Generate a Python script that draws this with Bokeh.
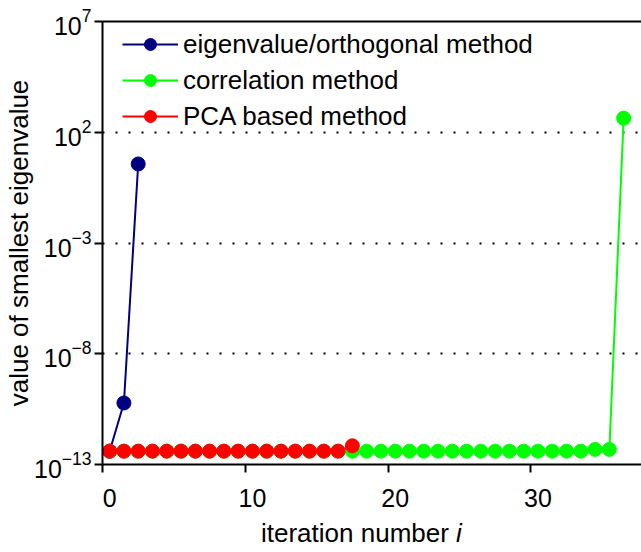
from bokeh.plotting import figure
from bokeh.models import (Range1d, FixedTicker, LinearAxis, Legend, LegendItem,
                          CustomJSTickFormatter, Div)
from bokeh.layouts import column
from bokeh.embed import file_html
from bokeh.resources import INLINE

# ---------------- data ----------------
iter_eig = [0, 1, 2]
val_eig = [4e-13, 6e-11, 3.7]

iter_corr = [0, 1, 2, 3, 4, 5, 6, 7, 8, 9, 10, 11, 12, 13, 14, 15, 16, 17, 18,
             19, 20, 21, 22, 23, 24, 25, 26, 27, 28, 29, 30, 31, 32, 33, 34, 35, 36]
val_corr = [4e-13, 4e-13, 4e-13, 4e-13, 4e-13, 4e-13, 4e-13, 4e-13, 4e-13, 4e-13,
            4e-13, 4e-13, 4e-13, 4e-13, 4e-13, 4e-13, 4e-13, 4e-13, 4e-13, 4e-13,
            4e-13, 4e-13, 4e-13, 4e-13, 4e-13, 4e-13, 4e-13, 4e-13, 4e-13, 4e-13,
            4e-13, 4e-13, 4e-13, 4e-13, 4.8e-13, 4.8e-13, 430.0]

iter_pca = [0, 1, 2, 3, 4, 5, 6, 7, 8, 9, 10, 11, 12, 13, 14, 15, 16, 17]
val_pca = [4e-13, 4e-13, 4e-13, 4e-13, 4e-13, 4e-13, 4e-13, 4e-13, 4e-13,
           4e-13, 4e-13, 4e-13, 4e-13, 4e-13, 4e-13, 4e-13, 4e-13, 7e-13]

series_names = ["eigenvalue/orthogonal method", "correlation method", "PCA based method"]
x_tick_values = [0, 10, 20, 30]
y_tick_values = [1e-13, 1e-8, 1e-3, 1e2, 1e7]
y_grid_values = [1e-8, 1e-3, 1e2]

FONT = "Liberation Sans"

p = figure(width=641, height=520, y_axis_type="log",
           x_range=Range1d(-0.5, 37.25), y_range=Range1d(1e-13, 1e7),
           x_axis_location=None,
           output_backend="svg", toolbar_location=None,
           min_border_left=102, min_border_right=0, min_border_top=21,
           min_border_bottom=56)
p.outline_line_color = None
p.background_fill_color = "white"
p.border_fill_color = "white"
p.xgrid.visible = False

# grid: dotted lines
p.ygrid.ticker = FixedTicker(ticks=y_grid_values, minor_ticks=[])
p.ygrid.grid_line_color = "black"
p.ygrid.grid_line_width = 2
p.ygrid.grid_line_dash = "2 11"

# y axis
ya = p.yaxis[0]
ya.ticker = FixedTicker(ticks=y_tick_values, minor_ticks=[])
ya.axis_line_width = 2
ya.major_tick_line_width = 2
ya.major_tick_out = 8
ya.major_tick_in = 0
ya.minor_tick_out = 0
ya.minor_tick_in = 0
ya.major_label_text_font = FONT
ya.major_label_text_font_size = "25px"
ya.major_label_text_color = "black"
ya.major_label_standoff = 3
ya.axis_label = "value of smallest eigenvalue"
ya.axis_label_text_font = FONT
ya.axis_label_text_font_size = "26px"
ya.axis_label_text_font_style = "normal"
ya.axis_label_text_color = "black"
ya.axis_label_standoff = -3

# x axis: tick marks (between iterations)
xa_ticks = LinearAxis(ticker=FixedTicker(ticks=[t - 0.5 for t in x_tick_values], minor_ticks=[]),
                      formatter=CustomJSTickFormatter(code="return ''"))
xa_ticks.axis_line_width = 2
xa_ticks.major_tick_line_width = 2
xa_ticks.major_tick_out = 8
xa_ticks.major_tick_in = 0
xa_ticks.minor_tick_out = 0
xa_ticks.minor_tick_in = 0
xa_ticks.major_label_text_font_size = "0px"
xa_ticks.major_label_standoff = 0
p.add_layout(xa_ticks, "below")

# x axis: tick labels
xa_labels = LinearAxis(ticker=FixedTicker(ticks=x_tick_values, minor_ticks=[]))
xa_labels.axis_line_color = None
xa_labels.major_tick_line_color = None
xa_labels.major_tick_out = 0
xa_labels.major_tick_in = 0
xa_labels.minor_tick_out = 0
xa_labels.minor_tick_in = 0
xa_labels.major_label_text_font = FONT
xa_labels.major_label_text_font_size = "25px"
xa_labels.major_label_text_color = "black"
xa_labels.major_label_standoff = 16
p.add_layout(xa_labels, "below")

# top frame line
top_axis = LinearAxis(ticker=FixedTicker(ticks=[], minor_ticks=[]))
top_axis.axis_line_width = 2
top_axis.major_tick_out = 0
top_axis.major_tick_in = 0
top_axis.minor_tick_out = 0
top_axis.minor_tick_in = 0
top_axis.major_label_text_font_size = "0px"
top_axis.major_label_standoff = 0
p.add_layout(top_axis, "above")

# series
colors = ["#000080", "#00FF00", "#FF0000"]
xs = [iter_eig, iter_corr, iter_pca]
ys = [val_eig, val_corr, val_pca]
items = []
for name, c, x, y in zip(series_names, colors, xs, ys):
    ln = p.line(x, y, line_color=c, line_width=2)
    sc = p.scatter(x, y, marker="circle", size=14, fill_color=c, line_color=c)
    items.append(LegendItem(label=name, renderers=[ln, sc]))

legend = Legend(items=items, location=(20, 330),
                glyph_width=56, glyph_height=30, label_height=36,
                label_standoff=5, padding=0, spacing=0, margin=0,
                border_line_color=None, background_fill_alpha=0,
                label_text_font=FONT, label_text_font_size="26px",
                label_text_color="black")
p.add_layout(legend)

# x axis title (with italic i) as real HTML text
x_title = Div(text="iteration number <i>i</i>", width=641, height=32, margin=0,
              styles={"font-family": "'Liberation Sans'", "font-size": "26px",
                      "line-height": "26px", "padding-left": "261px",
                      "color": "black", "white-space": "nowrap"})

layout = column(p, x_title, spacing=0)
open("out.html", "w").write(file_html(layout, INLINE))
